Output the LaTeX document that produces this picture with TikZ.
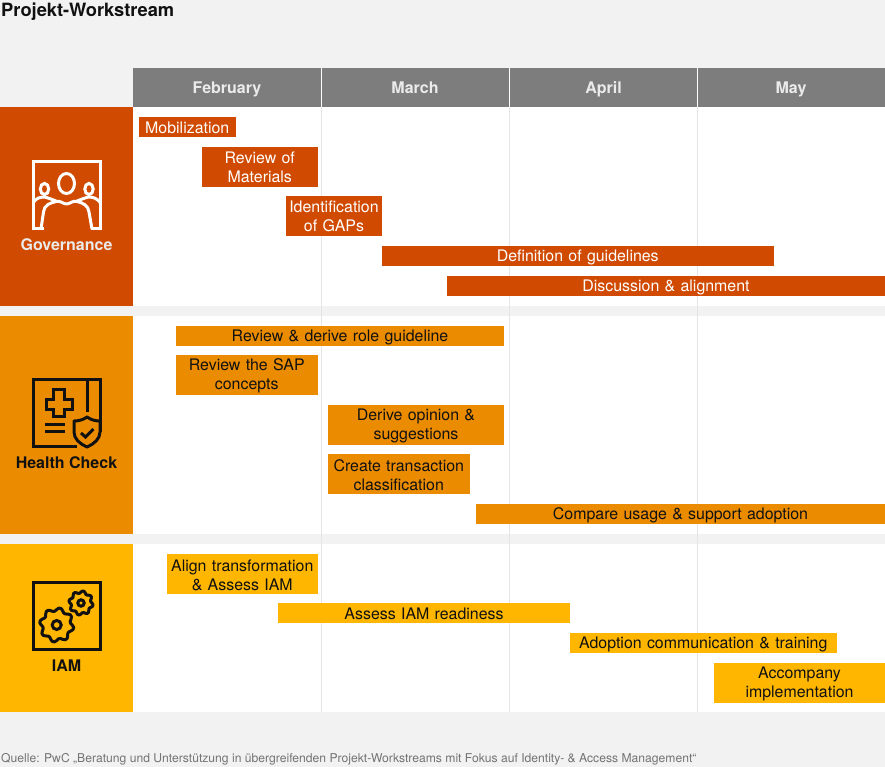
\documentclass[tikz,border=0pt]{standalone}
\usepackage{fontspec}
\setmainfont{TeX Gyre Heros}
\definecolor{gov}{HTML}{D04A02}
\definecolor{hc}{HTML}{EB8C00}
\definecolor{iam}{HTML}{FFB600}
\definecolor{bg}{HTML}{F2F2F2}
\definecolor{hdr}{HTML}{7D7D7D}
\definecolor{ink}{HTML}{111111}
\newcommand{\barbox}[7]{% two-line bar: name, x0, y0, x1, y1, style, text
  \node[barnode,#6,minimum width=#4pt-#2pt,minimum height=#5pt-#3pt,text width=#4pt-#2pt] (#1) at ({(#2+#4)/2},{(#3+#5)/2}) {\rule{0pt}{14pt}#7\rule[-1pt]{0pt}{1pt}};}
\newcommand{\barone}[7]{% one-line bar
  \node[barnode,#6,minimum width=#4pt-#2pt,minimum height=#5pt-#3pt,text width=#4pt-#2pt] (#1) at ({(#2+#4)/2},{(#3+#5)/2}) {\rule{0pt}{13.5pt}#7\rule[-0.5pt]{0pt}{0.5pt}};}
\newcommand{\gear}[4]{% cx, cy, outer r, style
  \draw[#4] plot[smooth cycle,tension=0.12,samples=48,domain=0:352.5,variable=\t]
    ({#1+(#3*(1+0.10*max(-1,min(1,2.2*sin(8*\t)))))*cos(\t)},{#2+(#3*(1+0.10*max(-1,min(1,2.2*sin(8*\t)))))*sin(\t)});}
\begin{document}
\begin{tikzpicture}[x=1pt,y=-1pt,
  barnode/.style={inner sep=0pt,outer sep=0pt,align=center,font=\fontsize{15.92}{19}\selectfont,anchor=center},
  govbar/.style={fill=gov,text=white},
  hcbar/.style={fill=hc,text=ink},
  iambar/.style={fill=iam,text=ink},
  month/.style={text=white!92!black,font=\fontsize{16}{18}\selectfont\bfseries,text height=11.5pt,text depth=3.5pt,inner sep=0pt},
  side/.style={font=\fontsize{16}{18}\selectfont\bfseries,text height=11.5pt,text depth=3.5pt,inner sep=0pt},
  title/.style={font=\fontsize{18.3}{20}\selectfont\bfseries,text=ink,inner sep=0pt,anchor=west,text height=13pt,text depth=4pt},
  source/.style={font=\fontsize{12.14}{14}\selectfont,text=black!55,inner sep=0pt,anchor=west},
  grid line/.style={draw=black!10,line width=0.8pt},
  icon w/.style={draw=white,line width=3pt,line join=miter},
  icon k/.style={draw=ink,line width=3pt,line join=miter},
]
\useasboundingbox (0,0) rectangle (885,767);
\fill[bg] (0,0) rectangle (885,767);
\node[title] (ttl) at (1,12) {Projekt-Workstream};
% panels
\fill[white] (133,107) rectangle (885,306);
\fill[white] (133,316) rectangle (885,534);
\fill[white] (133,544) rectangle (885,712);
\fill[gov] (0,107) rectangle (133,306);
\fill[hc] (0,316) rectangle (133,534);
\fill[iam] (0,544) rectangle (133,712);
% grid
\foreach \x in {321,509,697}{\draw[grid line] (\x,107) -- (\x,712);}
% header
\fill[hdr] (133,68) rectangle (885,107);
\foreach \x in {321,509,697}{\draw[white,line width=0.8pt] (\x,68) -- (\x,107);}
\node[month] (m1) at (227,90) {February};
\node[month] (m2) at (415,90) {March};
\node[month] (m3) at (603.5,90) {April};
\node[month] (m4) at (791,90) {May};
% side labels
\node[side,text=white!92!black] (s1) at (66.5,246) {Governance};
\node[side,text=ink] (s2) at (66.5,464) {Health Check};
\node[side,text=ink] (s3) at (66.5,667) {IAM};
% bars
\barone{a1}{139}{117}{235.5}{137}{govbar}{Mobilization}
\barbox{a2}{202}{147}{317.5}{187}{govbar}{Review of\\Materials}
\barbox{a3}{286}{196}{382}{236}{govbar}{Identification\\of GAPs}
\barone{a4}{382}{246}{773.5}{266}{govbar}{Definition of guidelines}
\barone{a5}{447}{276}{885}{296}{govbar}{Discussion \& alignment}
\barone{b1}{176}{326}{504}{346}{hcbar}{Review \& derive role guideline}
\barbox{b2}{176}{355}{317.5}{395}{hcbar}{Review the SAP\\concepts}
\barbox{b3}{328}{405}{504}{445}{hcbar}{Derive opinion \&\\suggestions}
\barbox{b4}{328}{454}{469.5}{494}{hcbar}{Create transaction\\classification}
\barone{b5}{476}{504}{885}{524}{hcbar}{Compare usage \& support adoption}
\barbox{c1}{167}{554}{317.5}{594}{iambar}{Align transformation\\\& Assess IAM}
\barone{c2}{278}{603}{570}{623}{iambar}{Assess IAM readiness}
\barone{c3}{570}{633}{836.5}{653}{iambar}{Adoption communication \& training}
\barbox{c4}{714}{663}{885}{703}{iambar}{Accompany\\implementation}
% governance icon
\draw[icon w] (44,229) -- (33,229) -- (33,161.5) -- (100.5,161.5) -- (100.5,229) -- (91,229);
\draw[icon w] (66.5,183.5) ellipse (8 and 10);
\draw[icon w] (44.5,189) ellipse (4.2 and 5.6);
\draw[icon w] (89,189) ellipse (4.2 and 5.6);
\draw[icon w,line join=round] (41,229) -- (43.5,212) .. controls (44,205) and (50,203) .. (56,201.5) .. controls (60,200) and (63,204) .. (66.5,204) .. controls (70,204) and (73,200) .. (77,201.5) .. controls (83,203) and (88,205) .. (89,212) -- (92,229);
\draw[icon w,line join=round] (33,203) .. controls (36,198) and (40,197) .. (45,197) .. controls (48,198) and (51,199) .. (56,201);
\draw[icon w,line join=round] (100.5,203) .. controls (97,198) and (93,197) .. (88,197) .. controls (85,198) and (82,199) .. (77,201);
% health check icon
\draw[icon k] (77,446) -- (33,446) -- (33,379.5) -- (100.5,379.5) -- (100.5,432);
\draw[icon k] (87,379.5) -- (87,412);
\draw[icon k] (53.5,389) -- (64.5,389) -- (64.5,399.5) -- (72,399.5) -- (72,409) -- (64.5,409) -- (64.5,416) -- (53.5,416) -- (53.5,409) -- (46,409) -- (46,399.5) -- (53.5,399.5) -- cycle;
\draw[icon k] (45,424) -- (65,424);
\draw[icon k] (45,431) -- (65,431);
\draw[icon k,line join=round,fill=hc] (87,417) .. controls (83,420) and (78,421) .. (74,421) -- (74,432) .. controls (74,439) and (80,444) .. (87,447) .. controls (94,444) and (100,439) .. (100,432) -- (100,421) .. controls (96,421) and (91,420) .. (87,417) -- cycle;
\draw[icon k] (81,433) -- (85.5,437) -- (93.5,429);
% iam icon
\draw[icon k] (33,582) rectangle (100.5,649);
\gear{56.7}{625}{15.5}{icon k,line join=round}
\draw[icon k] (56.7,625) circle (4.5);
\gear{81}{603}{11}{icon k,line join=round}
\draw[icon k] (81,603) circle (3.2);
\node[source] (src) at (1,759) {Quelle: PwC „Beratung und Unterstützung in übergreifenden Projekt-Workstreams mit Fokus auf Identity- \& Access Management“};
\end{tikzpicture}
\end{document}
